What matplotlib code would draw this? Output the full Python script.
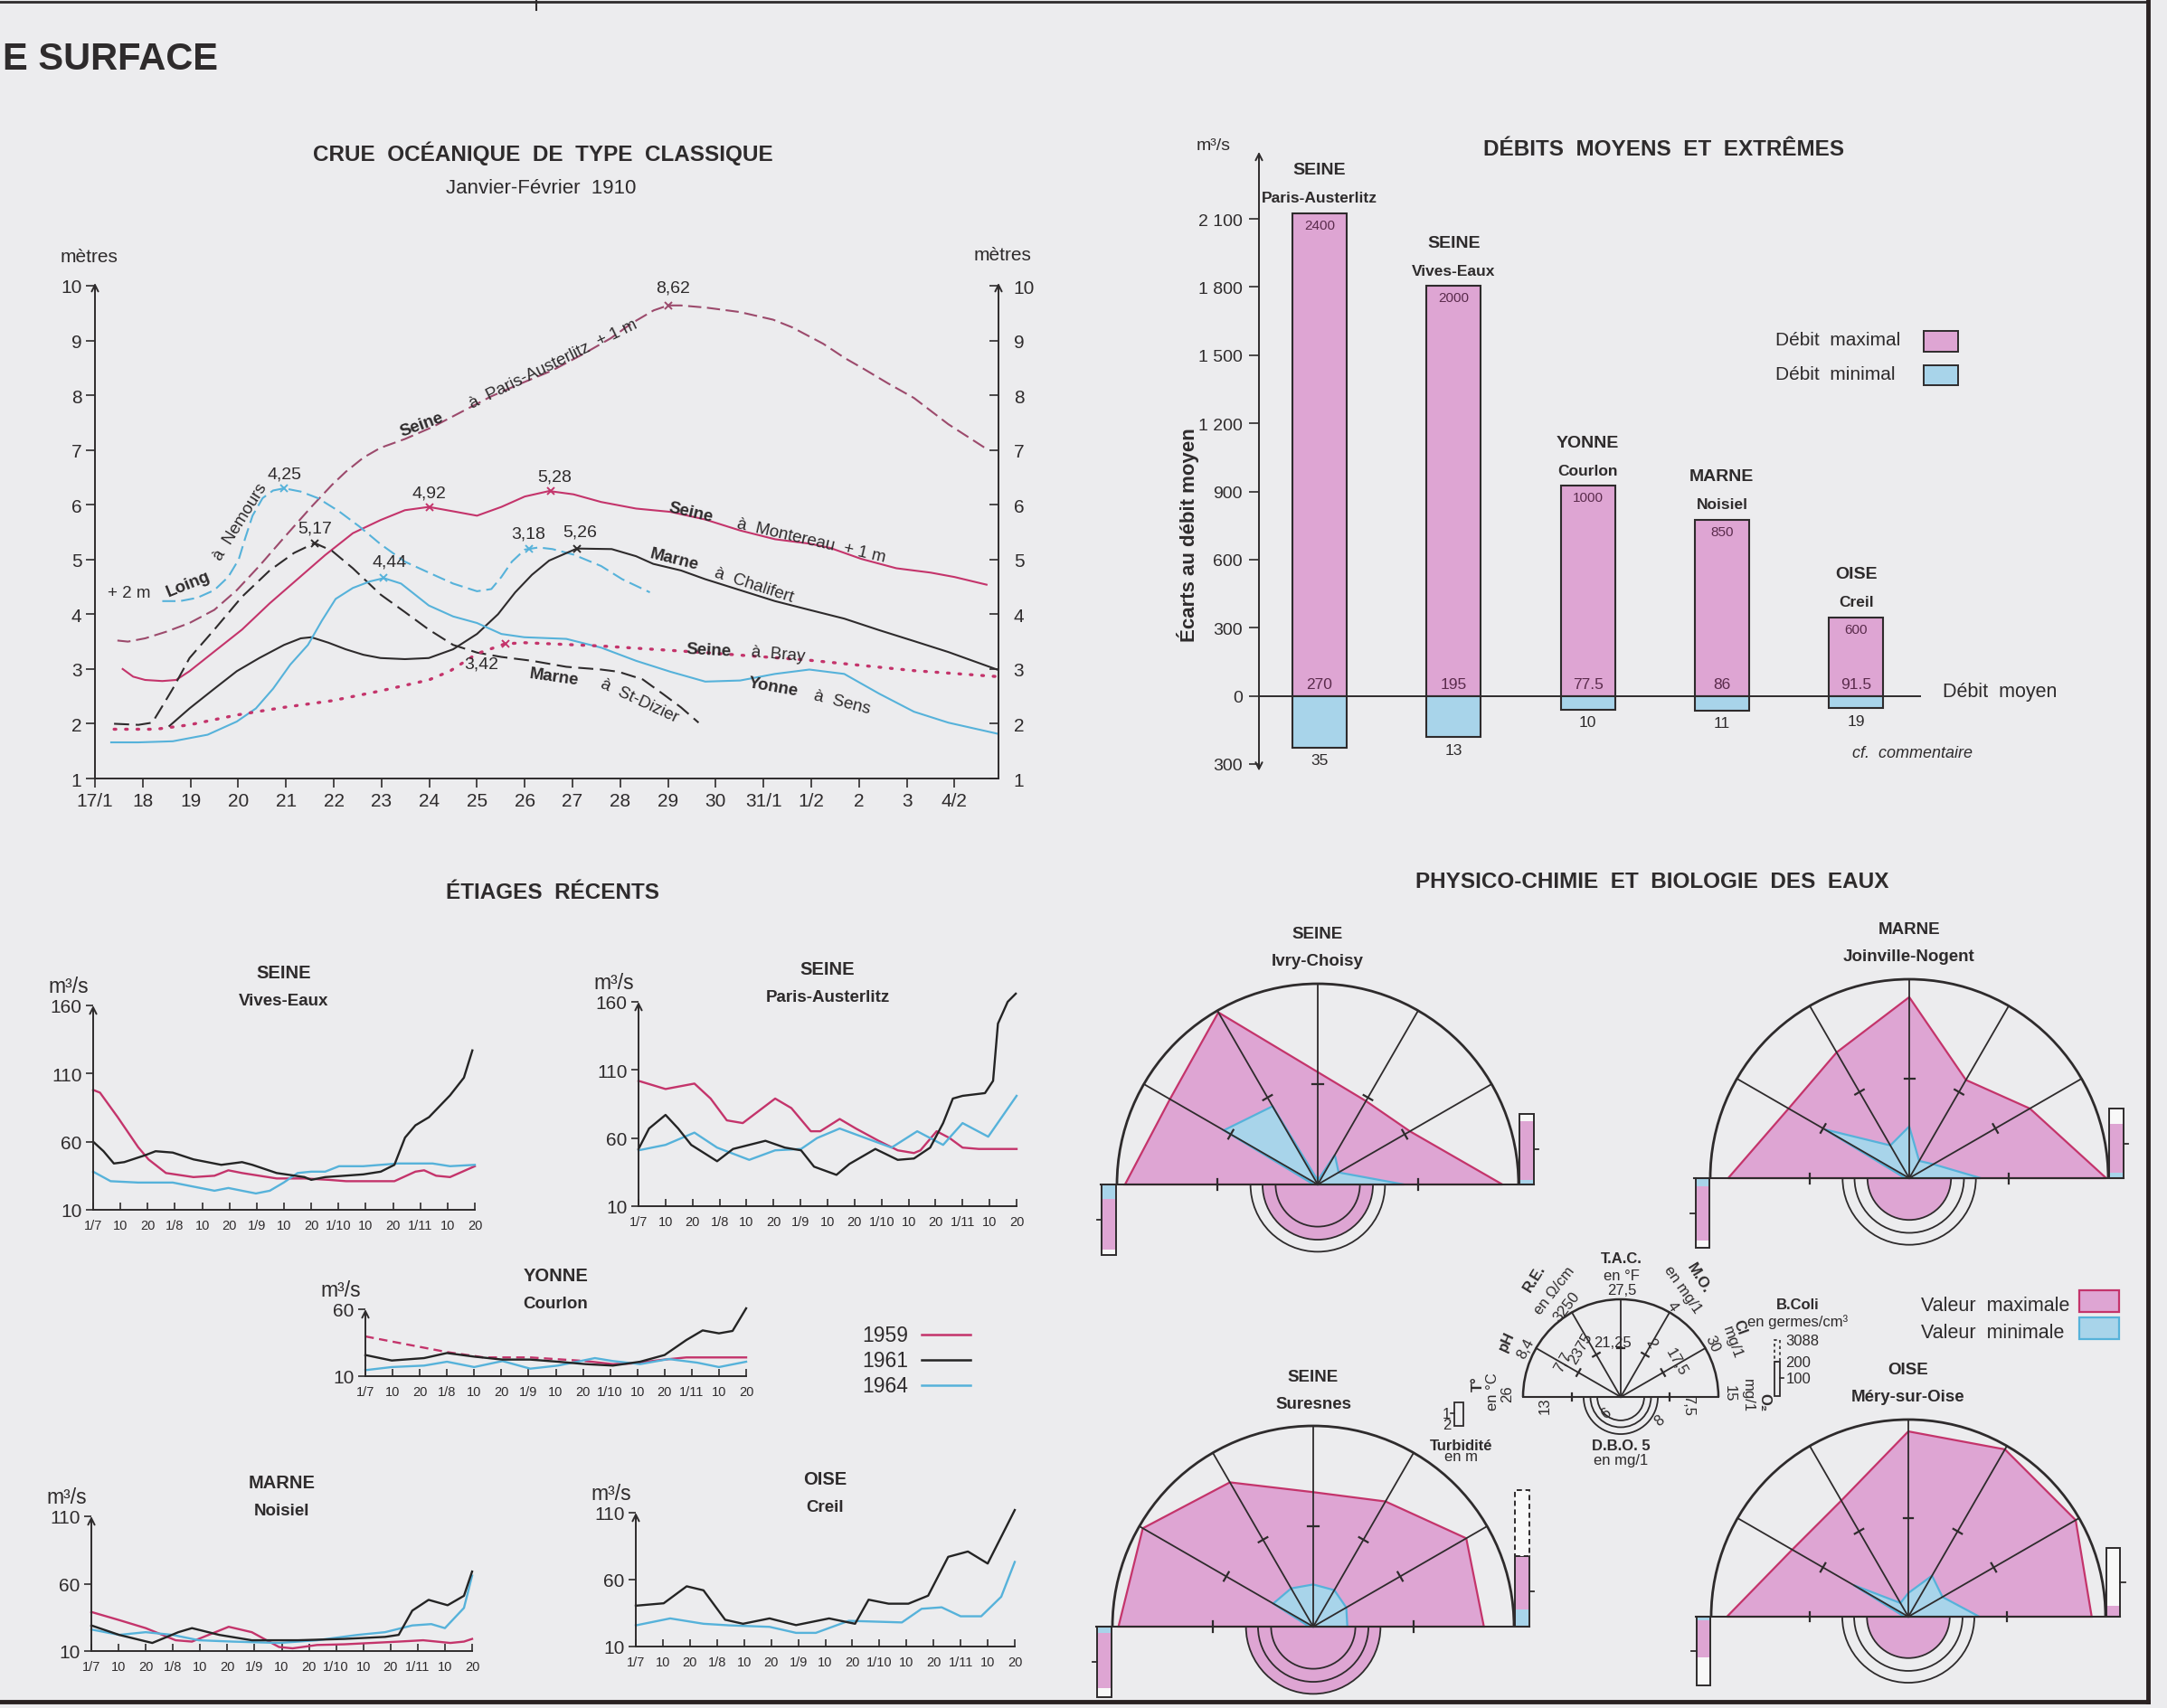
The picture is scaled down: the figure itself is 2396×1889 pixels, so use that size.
#!/usr/bin/env python3
"""Seine basin hydrology plate: 1910 flood, flow extremes, recent low waters
and water-quality fans, redrawn with matplotlib."""

import numpy as np
import matplotlib
matplotlib.use("Agg")
import matplotlib.pyplot as plt
from matplotlib import font_manager
from matplotlib.patches import Arc, Polygon, Rectangle, Wedge

W, H = 2396, 1890
BG = "#ececee"
INK = "#2e2b2c"
CRIMSON = "#c4346b"
MAUVE = "#9c4a6c"
SKY = "#56b2da"
PINK = "#dea5d3"
LIGHTBLUE = "#a8d4ea"
BAR_TXT = "#5a2b4c"

_installed = {f.name for f in font_manager.fontManager.ttflist}
SANS = "Liberation Sans" if "Liberation Sans" in _installed else "DejaVu Sans"
NARROW = "Liberation Sans Narrow" if "Liberation Sans Narrow" in _installed else SANS
plt.rcParams["font.family"] = [SANS, "DejaVu Sans"]
plt.rcParams["text.color"] = INK

# ---------------------------------------------------------------------------
# Data: crue de 1910 (days after 17/1, metres)
# ---------------------------------------------------------------------------
FLOOD_DAYS = ["17/1", "18", "19", "20", "21", "22", "23", "24", "25", "26",
              "27", "28", "29", "30", "31/1", "1/2", "2", "3", "4/2"]

AUST_X = [0.47, 0.69, 1.05, 1.49, 1.98, 2.50, 2.97, 3.44, 3.96, 4.53, 4.96, 5.25,
          5.62, 5.98, 6.49, 7.07, 7.64, 8.30, 8.88, 9.57, 10.24, 10.8, 11.25, 11.7,
          12.0, 12.27, 12.8, 13.5, 14.2, 14.6, 15.25, 15.7, 16.1, 16.6, 17.15,
          17.87, 18.67]
AUST_Y = [3.52, 3.50, 3.56, 3.68, 3.84, 4.08, 4.44, 4.88, 5.40, 5.96, 6.36, 6.60,
          6.86, 7.04, 7.20, 7.42, 7.68, 7.98, 8.20, 8.45, 8.76, 9.04, 9.32, 9.55,
          9.64, 9.64, 9.60, 9.52, 9.38, 9.24, 8.94, 8.68, 8.48, 8.22, 7.95, 7.47,
          7.02]

MONT_X = [0.58, 0.8, 1.05, 1.41, 1.70, 1.98, 2.50, 3.08, 3.66, 4.24, 4.82, 5.40,
          5.98, 6.49, 6.99, 7.5, 8.0, 8.51, 9.0, 9.51, 10.02, 10.6, 11.33, 12.05,
          12.78, 13.51, 14.24, 14.96, 15.4, 16.05, 16.78, 17.5, 18.0, 18.67]
MONT_Y = [3.0, 2.86, 2.8, 2.78, 2.8, 2.96, 3.32, 3.72, 4.2, 4.64, 5.08, 5.48, 5.72,
          5.90, 5.96, 5.88, 5.80, 5.96, 6.15, 6.25, 6.19, 6.05, 5.93, 5.87, 5.73,
          5.53, 5.37, 5.29, 5.21, 5.01, 4.84, 4.76, 4.68, 4.54]

LOING_X = [1.41, 1.78, 2.14, 2.5, 2.79, 3.01, 3.15, 3.30, 3.51, 3.73, 3.96, 4.31,
           4.67, 5.11, 5.54, 5.98, 6.49, 6.99, 7.5, 8.0, 8.30, 8.51, 8.73, 9.0,
           9.29, 9.58, 10.02, 10.6, 11.04, 11.33, 11.62]
LOING_Y = [4.24, 4.24, 4.30, 4.44, 4.68, 5.0, 5.4, 5.8, 6.12, 6.26, 6.30, 6.24,
           6.12, 5.88, 5.60, 5.28, 4.96, 4.76, 4.56, 4.42, 4.46, 4.68, 4.96, 5.18,
           5.22, 5.19, 5.09, 4.88, 4.64, 4.52, 4.40]

DIZIER_X = [0.40, 0.91, 1.20, 1.41, 1.63, 1.98, 2.5, 3.08, 3.66, 4.17, 4.60, 4.96,
            5.40, 5.98, 6.49, 6.99, 7.5, 8.0, 8.51, 9.15, 9.87, 10.6, 10.96, 11.47,
            11.9, 12.27, 12.64]
DIZIER_Y = [2.0, 1.98, 2.02, 2.32, 2.64, 3.2, 3.72, 4.32, 4.80, 5.12, 5.30, 5.16,
            4.84, 4.36, 4.04, 3.72, 3.44, 3.30, 3.22, 3.15, 3.04, 2.99, 2.95, 2.81,
            2.54, 2.30, 2.02]

CHALI_X = [1.56, 1.98, 2.5, 2.97, 3.44, 3.96, 4.31, 4.53, 4.89, 5.25, 5.62, 5.98,
           6.49, 6.99, 7.5, 8.0, 8.44, 8.8, 9.15, 9.51, 10.09, 10.82, 11.33, 11.69,
           12.27, 12.78, 13.51, 14.24, 14.96, 15.69, 16.42, 17.15, 17.87, 18.89]
CHALI_Y = [1.96, 2.28, 2.64, 2.96, 3.2, 3.44, 3.56, 3.58, 3.48, 3.36, 3.26, 3.2,
           3.18, 3.2, 3.36, 3.64, 4.0, 4.4, 4.72, 4.98, 5.2, 5.19, 5.06, 4.92, 4.8,
           4.64, 4.44, 4.24, 4.08, 3.92, 3.71, 3.51, 3.31, 2.99]

YONNE_X = [0.34, 0.91, 1.63, 2.36, 2.97, 3.37, 3.73, 4.09, 4.46, 4.75, 5.04, 5.40,
           5.76, 6.05, 6.41, 6.99, 7.5, 8.0, 8.51, 8.99, 9.87, 10.6, 11.33, 12.05,
           12.78, 13.51, 14.24, 14.96, 15.69, 16.42, 17.15, 17.87, 18.89]
YONNE_Y = [1.66, 1.66, 1.68, 1.8, 2.04, 2.28, 2.64, 3.08, 3.44, 3.88, 4.28, 4.48,
           4.6, 4.66, 4.56, 4.16, 3.96, 3.84, 3.64, 3.58, 3.55, 3.39, 3.15, 2.95,
           2.77, 2.79, 2.91, 2.99, 2.91, 2.55, 2.22, 2.02, 1.82]

BRAY_X = [0.4, 1.27, 1.98, 2.97, 3.96, 4.96, 5.98, 6.99, 7.43, 8.0, 8.59, 9.0,
          10.6, 12.78, 14.96, 17.15, 18.92]
BRAY_Y = [1.9, 1.9, 1.98, 2.16, 2.3, 2.42, 2.6, 2.8, 2.96, 3.28, 3.46, 3.48, 3.42,
          3.3, 3.16, 2.97, 2.86]

# peak marks: (day, label, label day, label level)
PEAKS_AUST = [(12.0, "8,62", 12.1, 9.97)]
PEAKS_MONT = [(7.0, "4,92", 7.0, 6.22), (9.55, "5,28", 9.62, 6.52)]
PEAKS_LOING = [(3.96, "4,25", 3.96, 6.57), (9.1, "3,18", 9.07, 5.47)]
PEAKS_DIZIER = [(4.6, "5,17", 4.6, 5.58)]
PEAKS_CHALI = [(10.1, "5,26", 10.15, 5.5)]
PEAKS_YONNE = [(6.05, "4,44", 6.16, 4.97)]
PEAKS_BRAY = [(8.59, "3,42", 8.1, 3.1)]

# ---------------------------------------------------------------------------
# Data: débits moyens et extrêmes (m3/s)
# ---------------------------------------------------------------------------
BAR_RIVERS = ["SEINE", "SEINE", "YONNE", "MARNE", "OISE"]
BAR_SITES = ["Paris-Austerlitz", "Vives-Eaux", "Courlon", "Noisiel", "Creil"]
ECART_MAX = [2125, 1805, 925, 775, 345]
ECART_MIN = [-228, -182, -62, -65, -55]
MAX_LABELS = ["2400", "2000", "1000", "850", "600"]
MEAN_LABELS = ["270", "195", "77.5", "86", "91.5"]
MIN_LABELS = ["35", "13", "10", "11", "19"]
BAR_TICKS = [-300, 0, 300, 600, 900, 1200, 1500, 1800, 2100]
BAR_TICK_LABELS = ["300", "0", "300", "600", "900", "1 200", "1 500", "1 800", "2 100"]

# ---------------------------------------------------------------------------
# Data: étiages récents (x = tick index 1/7 ... 20/11, m3/s)
# ---------------------------------------------------------------------------
ETIAGE_TICKS = ["1/7", "10", "20", "1/8", "10", "20", "1/9", "10", "20",
                "1/10", "10", "20", "1/11", "10", "20"]

VE_T59 = [0, 0.25, 0.9, 1.65, 2.03, 2.67, 3.68, 4.45, 4.96, 5.46, 6.73, 7.75, 8.64,
          9.28, 11.05, 11.82, 12.14, 12.58, 13.09, 14]
VE_Q59 = [98, 96, 78, 56, 47, 37, 34, 35, 39, 37, 33, 33, 32, 31, 31, 38, 39, 35, 34, 42]
VE_T61 = [0, 0.38, 0.76, 1.14, 1.9, 2.29, 2.92, 3.68, 4.7, 5.46, 5.84, 6.73, 7.75,
          8.0, 8.51, 9.91, 10.55, 11.05, 11.44, 11.82, 12.32, 13.09, 13.6, 13.91]
VE_Q61 = [60, 53, 44, 45, 50, 53, 52, 47, 43, 45, 43, 37, 34, 32, 34, 36, 38, 43,
          63, 72, 78, 94, 107, 127]
VE_T64 = [0, 0.64, 1.65, 2.92, 3.68, 4.45, 4.96, 5.46, 5.97, 6.48, 6.99, 7.5, 8.0,
          8.51, 9.02, 9.91, 11.18, 12.45, 13.09, 14]
VE_Q64 = [38, 31, 30, 30, 27, 24, 26, 24, 22, 24, 30, 37, 38, 38, 42, 42, 44, 44, 42, 43]

PA_T59 = [0, 1, 2.07, 2.67, 3.27, 3.86, 5.06, 5.66, 6.38, 6.73, 7.45, 8.05, 8.89,
          9.6, 10.2, 10.44, 11.04, 11.52, 12.0, 12.6, 14]
PA_Q59 = [102, 96, 100, 89, 73, 71, 89, 82, 65, 65, 74, 67, 58, 51, 49, 51, 65, 60,
          53, 52, 52]
PA_T61 = [0, 0.39, 1, 1.47, 1.95, 2.91, 3.5, 4.7, 5.42, 6.02, 6.5, 7.33, 7.81, 8.77,
          9.6, 10.2, 10.8, 11.28, 11.64, 12, 12.83, 13.13, 13.31, 13.67, 13.97]
PA_Q61 = [52, 67, 77, 67, 55, 43, 52, 58, 53, 51, 39, 33, 41, 52, 44, 45, 53, 71,
          89, 91, 93, 102, 144, 160, 166]
PA_T64 = [0, 1, 2.07, 2.91, 4.1, 5.06, 6.02, 6.61, 7.45, 8.41, 9.37, 10.32, 11.28,
          12.0, 12.95, 14]
PA_Q64 = [51, 55, 64, 53, 44, 51, 52, 60, 67, 60, 53, 65, 55, 71, 61, 91]

YO_T59 = [0, 0.97, 3.0, 4.36, 6.06, 8.1, 9.1, 9.8, 11, 11.8, 14]
YO_Q59 = [39.7, 35.9, 28, 24, 24, 21.3, 19, 19.5, 22.4, 24, 24]
YO_SPLIT = 5  # 1959 drawn dashed up to this point
YO_T61 = [0, 0.97, 2.16, 3.0, 4.0, 5.04, 6.06, 7.08, 8.1, 9.1, 10.1, 11.0, 11.8,
          12.4, 13.0, 13.5, 14]
YO_Q61 = [25.8, 21.7, 23.5, 27.3, 24.6, 22.4, 22.4, 20.8, 19, 17.9, 20.8, 25.8, 37,
          44.2, 42, 43.8, 60.7]
YO_T64 = [0, 0.97, 2.16, 3.0, 4.0, 5.04, 6.06, 7.08, 8.44, 9.1, 10.1, 11.15, 12.2,
          13.0, 14]
YO_Q64 = [14.5, 16.8, 17.9, 20.8, 16.8, 21.3, 15.6, 17.9, 23.5, 21.3, 19, 22.8,
          20.1, 16.8, 20.8]

MA_T59 = [0, 1.02, 2.0, 3.1, 3.7, 5.05, 5.9, 6.9, 7.4, 8.3, 9.3, 10.3, 11.3, 12.2,
          13.2, 13.7, 14]
MA_Q59 = [39, 33, 27, 18, 17, 28, 24, 13, 12, 14.5, 15, 16, 17, 18, 16, 17, 19]
MA_T61 = [0, 1.02, 2.24, 3.2, 3.7, 4.7, 5.9, 7.6, 9.3, 10.8, 11.3, 11.8, 12.4, 13.1,
          13.7, 14]
MA_Q61 = [29, 22, 16, 24, 27, 22, 18, 18, 19, 20.5, 22, 40, 48, 44, 51, 69]
MA_T64 = [0, 1.02, 2.0, 2.98, 3.95, 5.2, 6.9, 8.3, 9.8, 10.8, 11.8, 12.5, 13.0,
          13.7, 14]
MA_Q64 = [26, 22, 24, 22, 18, 17, 16, 18, 22, 24, 29, 30, 27, 42, 66]

OI_T61 = [0, 1.03, 1.88, 2.5, 3.3, 3.96, 4.94, 5.92, 7.14, 8.1, 8.6, 9.34, 10.07,
          10.8, 11.54, 12.27, 13.0, 14]
OI_Q61 = [40.5, 42.3, 55, 52, 30, 27, 31, 26, 31, 27, 45, 42, 42, 48, 77, 81, 72, 112]
OI_T64 = [0, 1.27, 2.5, 3.47, 4.94, 5.92, 6.65, 7.87, 9.83, 10.56, 11.3, 12.0,
          12.76, 13.5, 14]
OI_Q64 = [25.8, 31, 27, 25.8, 24.7, 20.2, 20.2, 29.2, 28, 38.2, 39.3, 32.6, 32.6,
          47.2, 73.2]

# ---------------------------------------------------------------------------
# Data: physico-chimie (fraction of each ray: O2, Cl, M.O., T.A.C., R.E., pH, T°)
# ---------------------------------------------------------------------------
RAY_DEG = [0, 30, 60, 90, 120, 150, 180]
IVRY_MAX = [0.92, 0.53, 0.48, 0.56, 0.99, 0.85, 0.96]
IVRY_MIN = [0.43, 0.12, 0.17, 0.02, 0.45, 0.54, 0.02]
MARNE_MAX = [0.99, 0.70, 0.57, 0.91, 0.73, 0.70, 0.91]
MARNE_MIN = [0.36, 0.14, 0.10, 0.26, 0.19, 0.49, 0.02]
SURES_MAX = [0.85, 0.88, 0.72, 0.67, 0.83, 0.98, 0.97]
SURES_MIN = [0.17, 0.19, 0.21, 0.21, 0.22, 0.23, 0.02]
OISE_MAX = [0.93, 0.98, 0.98, 0.94, 0.68, 0.68, 0.92]
OISE_MIN = [0.36, 0.20, 0.24, 0.12, 0.08, 0.32, 0.02]
# D.B.O.5 radius, turbidity (blue end, pink end), B.Coli (blue end, pink end),
# bar ends given as a fraction of the bar length
DBO = [0.275, 0.21, 0.335, 0.21]
TURB = [(0.20, 0.93), (0.12, 0.90), (0.09, 0.87), (0.05, 0.59)]
COLI = [(0.07, 0.90), (0.08, 0.78), (0.25, 1.0), (0.0, 0.16)]


# ---------------------------------------------------------------------------
fig = plt.figure(figsize=(W / 100, H / 100), dpi=100, facecolor=BG)


def px_axes(x0, y0, x1, y1):
    ax = fig.add_axes([x0 / W, 1 - y1 / H, (x1 - x0) / W, (y1 - y0) / H])
    ax.set_facecolor("none")
    return ax


cv = px_axes(0, 0, W, H)
cv.set_xlim(0, W)
cv.set_ylim(H, 0)
cv.axis("off")

ARROW = dict(arrowstyle="->", color=INK, lw=1.4, shrinkA=0, shrinkB=0,
             mutation_scale=13)
TITLE = 17.5


def label(x, y, s, size=13, bold=False, **kw):
    cv.text(x, y, s, fontsize=size, fontweight="bold" if bold else "normal",
            ha=kw.pop("ha", "center"), va=kw.pop("va", "center"), **kw)


# frame of the plate
cv.plot([0, 2374], [3, 3], color=INK, lw=2)
cv.plot([593, 593], [0, 12], color=INK, lw=1.5)
cv.plot([2375, 2375], [0, 1883], color="#2a2222", lw=3.5)
cv.plot([0, 2375], [1883, 1883], color="#2a2222", lw=3.5)
label(3, 66, "E SURFACE", size=30, bold=True, ha="left")

# ---------------------------------------------------------------------------
# Crue océanique 1910
# ---------------------------------------------------------------------------
label(600, 170, "CRUE  OCÉANIQUE  DE  TYPE  CLASSIQUE", size=TITLE, bold=True)
label(598, 208, "Janvier-Février  1910", size=16)
label(98, 284, "mètres", size=15)
label(1108, 283, "mètres", size=15)

fl = px_axes(105, 317, 1104, 862)
fl.set_xlim(0, 18.92)
fl.set_ylim(1, 10)
for s in ("top", "left", "right"):
    fl.spines[s].set_visible(False)
fl.spines["bottom"].set_color(INK)
fl.spines["bottom"].set_linewidth(1.4)
fl.set_xticks(range(len(FLOOD_DAYS)))
fl.set_xticklabels(FLOOD_DAYS)
fl.set_yticks(range(1, 11))
fl.tick_params(direction="out", length=7, width=1.2, colors=INK, labelsize=15)
fl.annotate("", xy=(0, 10.05), xytext=(0, 1), arrowprops=ARROW, annotation_clip=False)
fl.annotate("", xy=(18.92, 10.05), xytext=(18.92, 1), arrowprops=ARROW,
            annotation_clip=False)
fr = fl.twinx()
fr.set_ylim(1, 10)
for s in fr.spines.values():
    s.set_visible(False)
fr.set_yticks(range(1, 11))
fr.tick_params(direction="in", length=7, width=1.2, colors=INK, labelsize=15, pad=12)

flood_series = [
    (AUST_X, AUST_Y, MAUVE, dict(dashes=(7, 3)), PEAKS_AUST),
    (MONT_X, MONT_Y, CRIMSON, dict(), PEAKS_MONT),
    (LOING_X, LOING_Y, SKY, dict(dashes=(7, 3)), PEAKS_LOING),
    (DIZIER_X, DIZIER_Y, INK, dict(dashes=(8, 3.5)), PEAKS_DIZIER),
    (CHALI_X, CHALI_Y, INK, dict(), PEAKS_CHALI),
    (YONNE_X, YONNE_Y, SKY, dict(), PEAKS_YONNE),
    (BRAY_X, BRAY_Y, CRIMSON, dict(dashes=(0.6, 3.2), dash_capstyle="round"), PEAKS_BRAY),
]
for xs, ys, color, style, peaks in flood_series:
    lw = 2.4 if "dash_capstyle" in style else 1.5
    fl.plot(xs, ys, color=color, lw=lw, **style)
    for day, txt, lx, ly in peaks:
        fl.plot(day, np.interp(day, xs, ys), marker="x", ms=6, mew=1.4, color=color)
        fl.text(lx, ly, txt, fontsize=14, ha="center", va="center")

flood_names = [
    ("Seine", True, 6.85, 7.47, 20), ("à  Paris-Austerlitz  + 1 m", False, 9.6, 8.57, 26),
    ("+ 2 m", False, 0.72, 4.4, 0), ("Loing", True, 1.96, 4.55, 22),
    ("à  Nemours", False, 3.05, 5.7, 58),
    ("Seine", True, 12.48, 5.87, -13), ("à  Montereau  + 1 m", False, 15.0, 5.35, -13),
    ("Marne", True, 12.13, 5.0, -14), ("à  Chalifert", False, 13.8, 4.53, -18),
    ("Seine", True, 12.85, 3.35, -3), ("à  Bray", False, 14.3, 3.27, -5),
    ("Marne", True, 9.62, 2.86, -8), ("à  St-Dizier", False, 11.4, 2.43, -25),
    ("Yonne", True, 14.2, 2.68, -10), ("à  Sens", False, 15.65, 2.4, -14),
]
for txt, bold, x, y, rot in flood_names:
    fl.text(x, y, txt, fontsize=13.5, fontweight="bold" if bold else "normal",
            rotation=rot, rotation_mode="anchor", ha="center", va="center")

# ---------------------------------------------------------------------------
# Débits moyens et extrêmes
# ---------------------------------------------------------------------------
label(1840, 165, "DÉBITS  MOYENS  ET  EXTRÊMES", size=TITLE, bold=True)
label(1342, 161, "m³/s", size=14)
label(1313, 592, "Écarts au débit moyen", size=16, bold=True, rotation=90)

bc = px_axes(1392, 243, 2124, 846)
bc.set_xlim(-0.452, 4.484)
bc.set_ylim(-300, 2100)
xpos = np.arange(len(BAR_RIVERS))
bc.bar(xpos, ECART_MAX, width=0.405, color=PINK, edgecolor=INK, linewidth=1.5,
       zorder=2, clip_on=False)
bc.bar(xpos, ECART_MIN, width=0.405, color=LIGHTBLUE, edgecolor=INK, linewidth=1.5,
       zorder=2)
bc.axhline(0, color=INK, lw=1.4, zorder=3)
for s in bc.spines.values():
    s.set_visible(False)
bc.set_xticks([])
bc.set_yticks(BAR_TICKS)
bc.set_yticklabels(BAR_TICK_LABELS)
bc.tick_params(axis="y", direction="out", length=8, width=1.2, colors=INK,
               labelsize=14, pad=5)
bc.annotate("", xy=(-0.452, 2395), xytext=(-0.452, 0), arrowprops=ARROW,
            annotation_clip=False)
bc.annotate("", xy=(-0.452, -330), xytext=(-0.452, 0), arrowprops=ARROW,
            annotation_clip=False)
for i in xpos:
    bc.text(i, ECART_MAX[i] - 25, MAX_LABELS[i], ha="center", va="top", fontsize=11,
            color=BAR_TXT, zorder=4)
    bc.text(i, 22, MEAN_LABELS[i], ha="center", va="bottom", fontsize=12.5,
            color=BAR_TXT, zorder=4)
    bc.text(i, ECART_MIN[i] - 25, MIN_LABELS[i], ha="center", va="top", fontsize=12.5)
    bc.annotate(BAR_SITES[i], xy=(i, ECART_MAX[i]), xytext=(0, 17),
                textcoords="offset pixels", ha="center", va="center", fontsize=12.5,
                fontweight="bold", annotation_clip=False)
    bc.annotate(BAR_RIVERS[i], xy=(i, ECART_MAX[i]), xytext=(0, 48),
                textcoords="offset pixels", ha="center", va="center", fontsize=14,
                fontweight="bold", annotation_clip=False)

label(2148, 765, "Débit  moyen", size=15.5, ha="left")
label(1963, 376, "Débit  maximal", size=15, ha="left")
label(1963, 414, "Débit  minimal", size=15, ha="left")
cv.add_patch(Rectangle((2127, 367), 38, 23, fc=PINK, ec=INK, lw=1.4))
cv.add_patch(Rectangle((2127, 405), 38, 22, fc=LIGHTBLUE, ec=INK, lw=1.4))
label(2115, 833, "cf.  commentaire", size=13, style="italic")

# ---------------------------------------------------------------------------
# Étiages récents
# ---------------------------------------------------------------------------
label(611, 987, "ÉTIAGES  RÉCENTS", size=TITLE, bold=True)


def etiage(box, qmax, yticks, series, river, site):
    x0, x1, y_top, y_bot = box
    ax = px_axes(x0, y_top, x1, y_bot)
    ax.set_xlim(0, 14)
    ax.set_ylim(10, qmax)
    for s in ("top", "right", "left"):
        ax.spines[s].set_visible(False)
    ax.spines["bottom"].set_color(INK)
    ax.spines["bottom"].set_linewidth(1.4)
    ax.set_xticks(range(len(ETIAGE_TICKS)))
    ax.set_xticklabels(ETIAGE_TICKS, fontfamily=NARROW, fontsize=10.5)
    ax.set_yticks(yticks)
    ax.tick_params(axis="x", direction="in", length=6, width=1.2, colors=INK, pad=7)
    ax.tick_params(axis="y", direction="out", length=6, width=1.2, colors=INK,
                   labelsize=15, pad=3)
    ax.annotate("", xy=(0, qmax), xytext=(0, 10), arrowprops=ARROW, annotation_clip=False)
    for t, q, color, ls in series:
        ax.plot(t, q, color=color, lw=1.7, ls=ls, clip_on=False)
    ax.annotate(river, xy=(0.5, 1), xycoords="axes fraction", xytext=(0, 37),
                textcoords="offset pixels", ha="center", va="center", fontsize=14.5,
                fontweight="bold", fontfamily=NARROW)
    ax.annotate(site, xy=(0.5, 1), xycoords="axes fraction", xytext=(0, 6),
                textcoords="offset pixels", ha="center", va="center", fontsize=13.5,
                fontweight="bold", fontfamily=NARROW)
    ax.annotate("m³/s", xy=(0, 1), xycoords="axes fraction", xytext=(-50, 21),
                textcoords="offset pixels", ha="left", va="center", fontsize=16.5)
    return ax


C59, C61, C64 = CRIMSON, "#242424", SKY
etiage((103, 525, 1113, 1339), 160, [10, 60, 110, 160],
       [(VE_T59, VE_Q59, C59, "-"), (VE_T64, VE_Q64, C64, "-"),
        (VE_T61, VE_Q61, C61, "-")], "SEINE", "Vives-Eaux")
etiage((706, 1124, 1109, 1335), 160, [10, 60, 110, 160],
       [(PA_T59, PA_Q59, C59, "-"), (PA_T64, PA_Q64, C64, "-"),
        (PA_T61, PA_Q61, C61, "-")], "SEINE", "Paris-Austerlitz")
etiage((404, 825, 1449, 1523), 60, [10, 60],
       [(YO_T59[:YO_SPLIT + 1], YO_Q59[:YO_SPLIT + 1], C59, (0, (4, 2.5))),
        (YO_T59[YO_SPLIT:], YO_Q59[YO_SPLIT:], C59, "-"),
        (YO_T64, YO_Q64, C64, "-"), (YO_T61, YO_Q61, C61, "-")], "YONNE", "Courlon")
etiage((101, 522, 1678, 1827), 110, [10, 60, 110],
       [(MA_T59, MA_Q59, C59, "-"), (MA_T64, MA_Q64, C64, "-"),
        (MA_T61, MA_Q61, C61, "-")], "MARNE", "Noisiel")
etiage((703, 1122, 1674, 1822), 110, [10, 60, 110],
       [(OI_T64, OI_Q64, C64, "-"), (OI_T61, OI_Q61, C61, "-")], "OISE", "Creil")

for yy, year, color in [(1477, "1959", C59), (1505, "1961", C61), (1533, "1964", C64)]:
    cv.text(1004, yy, year, fontsize=16.5, ha="right", va="center", fontfamily=NARROW)
    cv.plot([1019, 1073], [yy, yy], color=color, lw=1.8)

# ---------------------------------------------------------------------------
# Physico-chimie et biologie des eaux
# ---------------------------------------------------------------------------
label(1827, 975, "PHYSICO-CHIMIE  ET  BIOLOGIE  DES  EAUX", size=TITLE, bold=True)

ANG = np.deg2rad(RAY_DEG)


def fan_frame(ax, lower_radii, tick=0.05, arc_lw=2.0):
    ax.add_patch(Arc((0, 0), 2, 2, theta1=0, theta2=180, color=INK, lw=arc_lw))
    for a in ANG:
        ax.plot([0, np.cos(a)], [0, np.sin(a)], color=INK, lw=1.3)
        mx, my = 0.5 * np.cos(a), 0.5 * np.sin(a)
        nx, ny = -np.sin(a) * tick / 2, np.cos(a) * tick / 2
        ax.plot([mx - nx, mx + nx], [my - ny, my + ny], color=INK, lw=1.6)
    for r in lower_radii:
        ax.add_patch(Arc((0, 0), 2 * r, 2 * r, theta1=180, theta2=360, color=INK, lw=1.3))


def fan(cx, cy, R, vmax, vmin, dbo, turb, coli, river, site, over=False):
    ax = px_axes(cx - 1.2 * R, cy - 1.05 * R, cx + 1.2 * R, cy + 0.45 * R)
    ax.set_xlim(-1.2, 1.2)
    ax.set_ylim(-0.45, 1.05)
    ax.axis("off")
    ax.add_patch(Wedge((0, 0), dbo, 180, 360, fc=PINK, ec="none"))
    ax.add_patch(Polygon(np.column_stack([np.multiply(vmax, np.cos(ANG)),
                                          np.multiply(vmax, np.sin(ANG))]),
                         closed=True, fc=PINK, ec=CRIMSON, lw=1.6))
    ax.add_patch(Polygon(np.column_stack([np.multiply(vmin, np.cos(ANG)),
                                          np.multiply(vmin, np.sin(ANG))]),
                         closed=True, fc=LIGHTBLUE, ec=SKY, lw=1.6))
    fan_frame(ax, [0.21, 0.275, 0.335])
    ax.plot([-1.08, 1.075], [0, 0], color=INK, lw=1.5)
    L, bw = 0.35, 0.07
    # turbidity bar (hangs below the left end)
    t0, t1 = turb[0] * L, turb[1] * L
    ax.add_patch(Rectangle((-1.075, -L), bw, L, fc="#f8f8f8", ec="none"))
    ax.add_patch(Rectangle((-1.075, -t0), bw, t0, fc=LIGHTBLUE, ec="none"))
    ax.add_patch(Rectangle((-1.075, -t1), bw, t1 - t0, fc=PINK, ec="none"))
    ax.add_patch(Rectangle((-1.075, -L), bw, L, fill=False, ec=INK, lw=1.4))
    ax.plot([-1.075, -1.1], [-L / 2, -L / 2], color=INK, lw=1.3)
    # B.Coli bar (stands on the right end)
    c0, c1 = coli[0] * L, coli[1] * L
    ax.add_patch(Rectangle((1.005, 0), bw, L, fc="#f8f8f8", ec="none"))
    ax.add_patch(Rectangle((1.005, 0), bw, c0, fc=LIGHTBLUE, ec="none"))
    ax.add_patch(Rectangle((1.005, c0), bw, c1 - c0, fc=PINK, ec="none"))
    ax.add_patch(Rectangle((1.005, 0), bw, L, fill=False, ec=INK, lw=1.4))
    ax.plot([1.075, 1.1], [L / 2, L / 2], color=INK, lw=1.3)
    if over:
        ax.add_patch(Rectangle((1.005, L), bw, 0.33, fc="#f8f8f8", ec=INK, lw=1.4,
                               ls=(0, (3, 2))))
    ax.annotate(river, xy=(0, 1), xytext=(0, 55), textcoords="offset pixels",
                ha="center", va="center", fontsize=13.5, fontweight="bold",
                fontfamily=NARROW)
    ax.annotate(site, xy=(0, 1), xytext=(0, 25), textcoords="offset pixels",
                ha="center", va="center", fontsize=13.5, fontweight="bold",
                fontfamily=NARROW)


fan(1457, 1311, 222, IVRY_MAX, IVRY_MIN, DBO[0], TURB[0], COLI[0], "SEINE", "Ivry-Choisy")
fan(2111, 1304, 220, MARNE_MAX, MARNE_MIN, DBO[1], TURB[1], COLI[1], "MARNE",
    "Joinville-Nogent")
fan(1452, 1800, 222, SURES_MAX, SURES_MIN, DBO[2], TURB[2], COLI[2], "SEINE", "Suresnes",
    over=True)
fan(2110, 1789, 218, OISE_MAX, OISE_MIN, DBO[3], TURB[3], COLI[3], "OISE",
    "Méry-sur-Oise")

# key fan
KR = 108
kx, ky = 1792, 1546
kf = px_axes(kx - 2.0 * KR, ky - 1.5 * KR, kx + 2.5 * KR, ky + 0.8 * KR)
kf.set_xlim(-2.0, 2.5)
kf.set_ylim(-0.8, 1.5)
kf.axis("off")
fan_frame(kf, [0.24, 0.31, 0.38], tick=0.08, arc_lw=1.8)
kf.plot([-1.0, 1.0], [0, 0], color=INK, lw=1.5)
key_texts = [
    ("T.A.C.", 0.01, 1.42, 0, True), ("en °F", 0.01, 1.25, 0, False),
    ("27,5", 0.01, 1.10, 0, False),
    ("R.E.", -0.88, 1.22, 58, True), ("en Ω/cm", -0.68, 1.10, 52, False),
    ("3250", -0.55, 0.93, 52, False),
    ("M.O.", 0.80, 1.22, -58, True), ("en mg/1", 0.63, 1.11, -55, False),
    ("4", 0.53, 0.93, -55, False),
    ("pH", -1.17, 0.58, 65, True), ("8,4", -0.97, 0.50, 62, False),
    ("Cl", 1.22, 0.72, -70, True), ("mg/1", 1.14, 0.57, -70, False),
    ("30", 0.94, 0.55, -65, False),
    ("T°", -1.46, 0.14, 90, True), ("en °C", -1.31, 0.06, 90, False),
    ("26", -1.16, 0.04, 90, False),
    ("15", 1.11, 0.04, -90, False), ("mg/1", 1.30, 0.02, -90, False),
    ("O₂", 1.47, -0.05, -90, True),
    ("13", -0.78, -0.08, 90, False), ("7,5", 0.69, -0.08, -90, False),
    ("7,7", -0.59, 0.36, 60, False), ("2375", -0.41, 0.50, 60, False),
    ("21,25", -0.08, 0.56, 0, False), ("2", 0.31, 0.56, -60, False),
    ("17,5", 0.57, 0.36, -60, False),
    ("6", -0.15, -0.16, 40, False), ("8", 0.40, -0.24, 40, False),
    ("D.B.O. 5", 0.0, -0.50, 0, True), ("en mg/1", 0.0, -0.64, 0, False),
    ("Turbidité", -1.63, -0.50, 0, True), ("en m", -1.63, -0.61, 0, False),
    ("1", -1.78, -0.17, 0, False), ("2", -1.78, -0.28, 0, False),
    ("B.Coli", 1.81, 0.95, 0, True), ("en germes/cm³", 1.81, 0.78, 0, False),
    ("3088", 1.69, 0.58, 0, False), ("200", 1.69, 0.36, 0, False),
    ("100", 1.69, 0.19, 0, False),
]
for txt, x, y, rot, bold in key_texts:
    kf.text(x, y, txt, fontsize=12, fontweight="bold" if bold else "normal",
            rotation=rot, rotation_mode="anchor", fontfamily=NARROW,
            ha="left" if txt in ("3088", "200", "100") else "center", va="center")
kf.add_patch(Rectangle((-1.70, -0.30), 0.09, 0.245, fill=False, ec=INK, lw=1.3))
kf.plot([-1.74, -1.70], [-0.17, -0.17], color=INK, lw=1.2)
kf.add_patch(Rectangle((1.57, 0.01), 0.06, 0.35, fill=False, ec=INK, lw=1.3))
kf.add_patch(Rectangle((1.57, 0.36), 0.06, 0.22, fill=False, ec=INK, lw=1.2,
                       ls=(0, (2, 2))))
kf.plot([1.63, 1.67], [0.19, 0.19], color=INK, lw=1.2)

label(2124, 1445, "Valeur  maximale", size=15.5, ha="left", fontfamily=NARROW)
label(2124, 1474, "Valeur  minimale", size=15.5, ha="left", fontfamily=NARROW)
cv.add_patch(Rectangle((2299, 1428), 44, 24, fc=PINK, ec=CRIMSON, lw=1.6))
cv.add_patch(Rectangle((2299, 1458), 44, 24, fc=LIGHTBLUE, ec=SKY, lw=1.6))

fig.savefig("out.png", dpi=100, facecolor=BG)
